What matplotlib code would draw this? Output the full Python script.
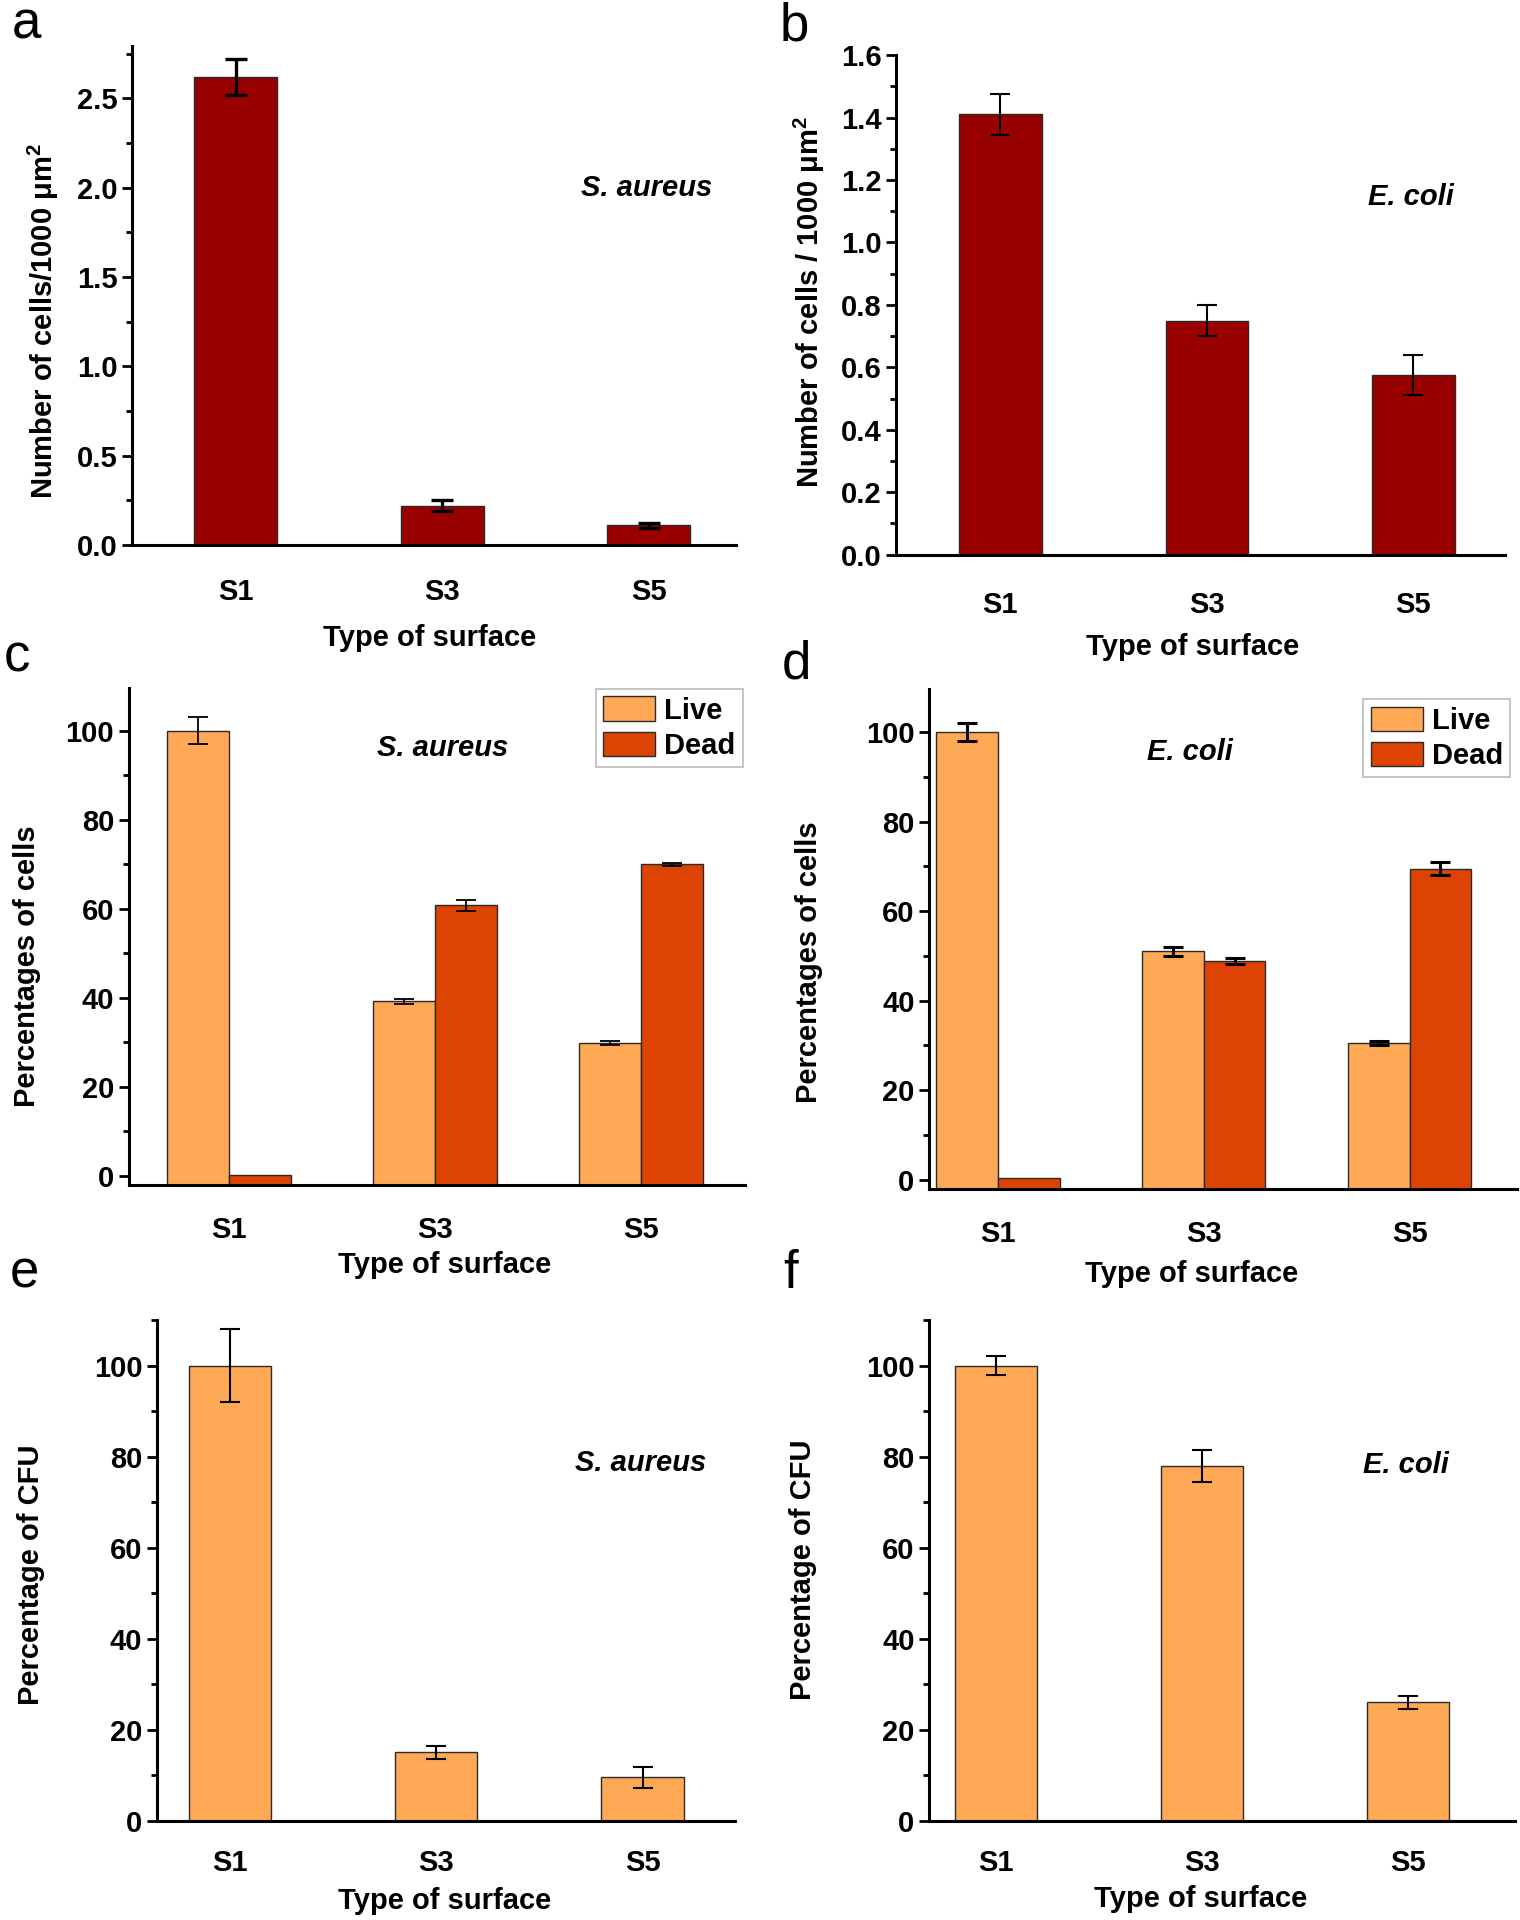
import numpy as np
import matplotlib
matplotlib.use('Agg')
import matplotlib.pyplot as plt
from matplotlib.ticker import MultipleLocator, FormatStrFormatter
from matplotlib.patches import Patch

plt.rcParams['font.family'] = ['Liberation Sans', 'DejaVu Sans']
plt.rcParams['font.weight'] = 'bold'
plt.rcParams['axes.labelweight'] = 'bold'
plt.rcParams['mathtext.fontset'] = 'custom'
plt.rcParams['mathtext.rm'] = 'Liberation Sans'
plt.rcParams['mathtext.bf'] = 'Liberation Sans:bold'

surfaces = ['S1', 'S3', 'S5']

# a: S. aureus, cells per 1000 um^2
a_vals = [2.62, 0.22, 0.11]
a_err = [0.10, 0.03, 0.015]
# b: E. coli, cells per 1000 um^2
b_vals = [1.41, 0.75, 0.575]
b_err = [0.065, 0.05, 0.065]
# c: S. aureus live / dead
c_live = [100, 39.2, 29.8]
c_live_err = [3.0, 0.5, 0.5]
c_dead = [0.3, 60.8, 70.0]
c_dead_err = [0, 1.2, 0.4]
# d: E. coli live / dead
d_live = [100, 51.0, 30.5]
d_live_err = [2.0, 1.0, 0.5]
d_dead = [0.3, 48.9, 69.5]
d_dead_err = [0, 0.6, 1.5]
# e, f: percentage of CFU
e_vals = [100, 15, 9.5]
e_err = [8, 1.5, 2.2]
f_vals = [100, 78, 26]
f_err = [2, 3.5, 1.5]

dark_red = '#990000'
live_col = '#FFA856'
dead_col = '#DD4404'
edge = '#2a2a2a'
FS = 21

fig = plt.figure(figsize=(15.2, 19.2), dpi=100)


def style(ax, xlim, ylim, major, minor, fmt, xpad):
    x = np.arange(1, 4)
    ax.set_xlim(*xlim)
    ax.set_ylim(*ylim)
    for s in ['top', 'right']:
        ax.spines[s].set_visible(False)
    for s in ['left', 'bottom']:
        ax.spines[s].set_linewidth(2.2)
    ax.yaxis.set_major_locator(MultipleLocator(major))
    ax.yaxis.set_minor_locator(MultipleLocator(minor))
    ax.yaxis.set_major_formatter(FormatStrFormatter(fmt))
    ax.tick_params(axis='y', which='major', length=7, width=2, labelsize=FS)
    ax.tick_params(axis='y', which='minor', length=4.5, width=2)
    ax.tick_params(axis='x', which='both', length=0, pad=xpad, labelsize=FS)
    ax.set_xticks(x)
    ax.set_xticklabels(surfaces)


def labels(ax, ylab, xl, yl, species, sp):
    ax.set_xlabel('Type of surface', fontsize=FS, fontweight='bold', va='center')
    ax.xaxis.set_label_coords(*xl)
    ax.set_ylabel(ylab, fontsize=FS, fontweight='bold')
    ax.yaxis.label.set_va('center')
    ax.yaxis.set_label_coords(*yl)
    ax.text(sp[0], sp[1], species, transform=ax.transAxes, fontsize=FS,
            style='italic', fontweight='bold', ha='center', va='center')


x = np.arange(1, 4)

# panel a
ax = fig.add_axes([0.0871, 0.7162, 0.3968, 0.2596])
ax.bar(x, a_vals, width=0.4, color=dark_red, edgecolor=edge, linewidth=1)
ax.errorbar(x, a_vals, yerr=a_err, fmt='none', ecolor='black', elinewidth=2.4,
            capsize=8, capthick=2.4)
style(ax, (0.50, 3.42), (0, 2.79), 0.5, 0.25, '%.1f', 24)
labels(ax, 'Number of cells/1000 \u03bcm$^{2}$', (0.492, -0.187), (-0.148, 0.45),
       'S. aureus', (0.852, 0.717))

# panel b
ax = fig.add_axes([0.5895, 0.7111, 0.4008, 0.2602])
ax.bar(x, b_vals, width=0.4, color=dark_red, edgecolor=edge, linewidth=1)
ax.errorbar(x, b_vals, yerr=b_err, fmt='none', ecolor='black', elinewidth=1.5,
            capsize=7, capthick=1.5)
style(ax, (0.495, 3.445), (0, 1.6), 0.2, 0.1, '%.1f', 26)
labels(ax, 'Number of cells / 1000 \u03bcm$^{2}$', (0.487, -0.184), (-0.143, 0.505),
       'E. coli', (0.845, 0.716))


# panels c, d
def live_dead(rect, live, live_err, dead, dead_err, xlim, ew, xl, yl, species, sp, leg):
    ax = fig.add_axes(rect)
    base = -2.1
    w = 0.3
    ax.bar(x - w / 2, np.array(live) - base, bottom=base, width=w, color=live_col,
           edgecolor=edge, linewidth=1)
    ax.bar(x + w / 2, np.array(dead) - base, bottom=base, width=w, color=dead_col,
           edgecolor=edge, linewidth=1)
    ax.errorbar(x - w / 2, live, yerr=live_err, fmt='none', ecolor='black',
                elinewidth=ew, capsize=7, capthick=ew)
    ax.errorbar(x[1:] + w / 2, dead[1:], yerr=dead_err[1:], fmt='none', ecolor='black',
                elinewidth=ew, capsize=7, capthick=ew)
    style(ax, xlim, (base, 109.6), 20, 10, '%d', 22)
    labels(ax, 'Percentages of cells', xl, yl, species, sp)
    handles = [Patch(facecolor=live_col, edgecolor=edge, label='Live'),
               Patch(facecolor=dead_col, edgecolor=edge, label='Dead')]
    lg = ax.legend(handles=handles, loc='upper right', bbox_to_anchor=leg,
                   fontsize=FS, fancybox=False, framealpha=1, edgecolor='#bbbbbb',
                   handlelength=1.8, handleheight=0.9, handletextpad=0.3,
                   labelspacing=0.25, borderpad=0.25, borderaxespad=0)
    lg.get_frame().set_linewidth(1.2)
    return ax


live_dead([0.0847, 0.3827, 0.4056, 0.2589], c_live, c_live_err, c_dead, c_dead_err,
          (0.512, 3.506), 1.3, (0.513, -0.160), (-0.165, 0.441),
          'S. aureus', (0.509, 0.879), (0.996, 0.998))
live_dead([0.6113, 0.3807, 0.3870, 0.2603], d_live, d_live_err, d_dead, d_dead_err,
          (0.667, 3.524), 2.2, (0.446, -0.169), (-0.204, 0.453),
          'E. coli', (0.444, 0.875), (0.988, 0.980))

# panel e
ax = fig.add_axes([0.1032, 0.0517, 0.3806, 0.2608])
ax.bar(x, e_vals, width=0.4, color=live_col, edgecolor=edge, linewidth=1)
ax.errorbar(x, e_vals, yerr=e_err, fmt='none', ecolor='black', elinewidth=1.5,
            capsize=7, capthick=1.5)
style(ax, (0.646, 3.45), (0, 110), 20, 10, '%d', 20)
labels(ax, 'Percentage of CFU', (0.498, -0.161), (-0.218, 0.491),
       'S. aureus', (0.837, 0.714))

# panel f
ax = fig.add_axes([0.6113, 0.0517, 0.3855, 0.2608])
ax.bar(x, f_vals, width=0.4, color=live_col, edgecolor=edge, linewidth=1)
ax.errorbar(x, f_vals, yerr=f_err, fmt='none', ecolor='black', elinewidth=1.5,
            capsize=7, capthick=1.5)
style(ax, (0.676, 3.52), (0, 110), 20, 10, '%d', 20)
labels(ax, 'Percentage of CFU', (0.464, -0.156), (-0.215, 0.501),
       'E. coli', (0.814, 0.711))

# panel letters
for lt, px, py in [('a', 0.0177, 0.9872), ('b', 0.5226, 0.986), ('c', 0.0113, 0.6575),
                   ('d', 0.524, 0.6537), ('e', 0.0161, 0.3367), ('f', 0.520, 0.3367)]:
    fig.text(px, py, lt, fontsize=38, fontweight='normal', ha='center', va='center')

fig.savefig('out.png', dpi=100)
